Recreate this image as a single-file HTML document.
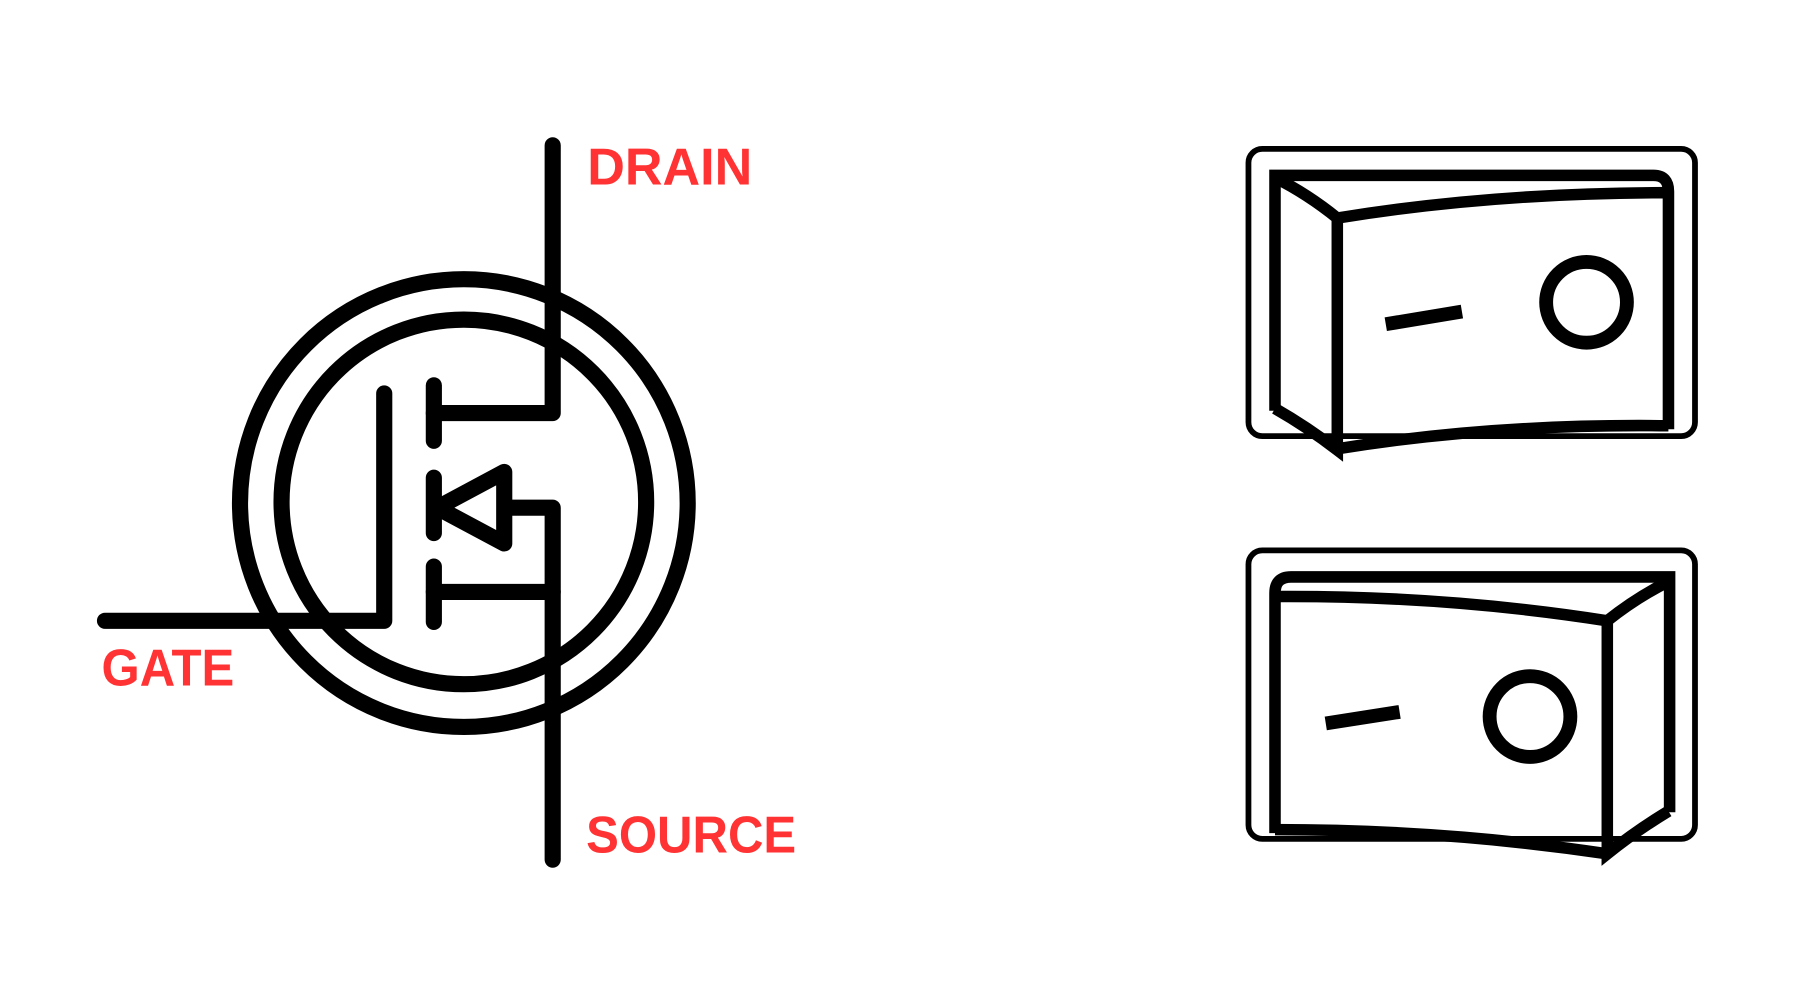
<!DOCTYPE html>
<html><head><meta charset="utf-8"><style>
html,body{margin:0;padding:0;background:#fff;}
svg{display:block;}
text{font-family:"Liberation Sans",sans-serif;font-weight:bold;fill:#ff3333;font-size:45px;}
</style></head><body>
<svg width="1800" height="1000" viewBox="0 0 1560 866.67">
<g transform="translate(-3,0)" fill="none" stroke="#000" stroke-width="14" stroke-linecap="round" stroke-linejoin="round">
  <circle cx="405" cy="436" r="194"/>
  <circle cx="405" cy="435" r="158"/>
  <polyline points="482,126 482,358 379,358"/>
  <polyline points="379,513 482,513"/>
  <polyline points="440,440 482,440 482,745"/>
  <line x1="379" y1="334" x2="379" y2="382"/>
  <line x1="379" y1="414" x2="379" y2="462"/>
  <line x1="379" y1="491" x2="379" y2="539"/>
  <polygon points="382,440 440,409 440,471" fill="#fff"/>
  <polyline points="94,538 336,538 336,341"/>
</g>
<text x="509" y="160" textLength="143" lengthAdjust="spacingAndGlyphs">DRAIN</text>
<text x="88" y="594" textLength="115" lengthAdjust="spacingAndGlyphs">GATE</text>
<text x="508" y="739" textLength="182" lengthAdjust="spacingAndGlyphs">SOURCE</text>

<g transform="translate(-7,0)" fill="none" stroke="#000" stroke-linejoin="miter">
  <rect x="1089" y="129" width="387" height="249" rx="12" stroke-width="5"/>
  <path d="M1112,356 L1112,152 L1440,152 Q1453,152 1453,166 L1453,372" stroke-width="10"/>
  <path d="M1112,154 Q1140,168 1166,189 L1166,390 Q1140,370 1112,354" stroke-width="10"/>
  <path d="M1166,189 Q1300,167 1453,167" stroke-width="10"/>
  <path d="M1166,389 Q1300,367 1453,369" stroke-width="10"/>
  <line x1="1208" y1="281" x2="1274" y2="270" stroke-width="12"/>
  <circle cx="1382" cy="262" r="35" stroke-width="12"/>
</g>

<g transform="translate(-7,0)" fill="none" stroke="#000" stroke-linejoin="miter">
  <rect x="1089" y="477" width="387" height="250" rx="12" stroke-width="5"/>
  <path d="M1112,722 L1112,514 Q1112,500 1126,500 L1454,500 L1454,704" stroke-width="10"/>
  <path d="M1453,504 Q1425,518 1400,538 L1400,740 Q1425,720 1453,703" stroke-width="10"/>
  <path d="M1112,517 Q1260,516 1400,538" stroke-width="10"/>
  <path d="M1112,719 Q1260,719 1400,740" stroke-width="10"/>
  <line x1="1156" y1="627" x2="1220" y2="617" stroke-width="12"/>
  <circle cx="1333" cy="621" r="35" stroke-width="12"/>
</g>
</svg>
</body></html>
